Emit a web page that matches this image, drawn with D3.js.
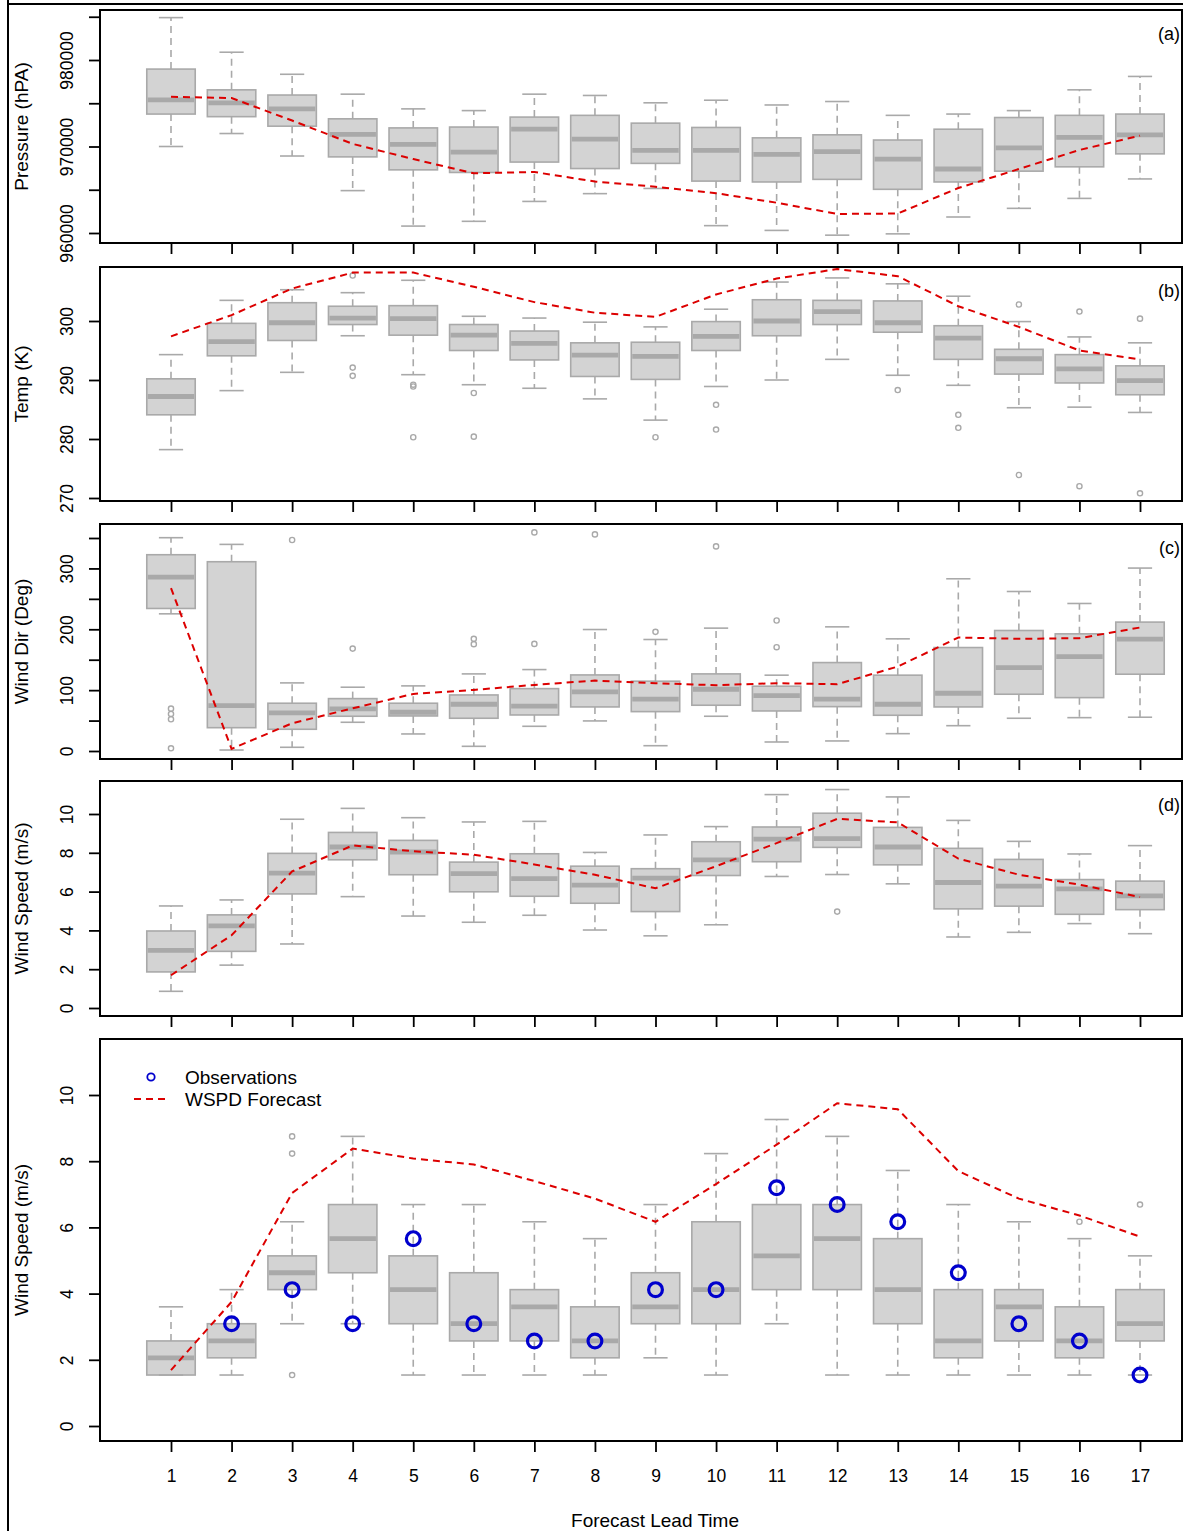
<!DOCTYPE html>
<html>
<head>
<meta charset="utf-8">
<script src="https://cdn.jsdelivr.net/npm/d3@7/dist/d3.min.js"></script>
<style>
body { margin: 0; background: #fff; }
text { font-family: "Liberation Sans", Arial, Helvetica, sans-serif; fill: #000; }
</style>
</head>
<body>
<svg id="chart"></svg>
<script>
// lead times (x categories)
const leads = [1, 2, 3, 4, 5, 6, 7, 8, 9, 10, 11, 12, 13, 14, 15, 16, 17];

// (a) pressure
const presUpper = [984900, 980900, 978350, 976050, 974350, 974150, 976050, 975900, 975050, 975350, 974800, 975200, 973600, 973750, 974150, 976550, 978100];
const presQ3    = [978950, 976550, 975950, 973200, 972150, 972250, 973400, 973600, 972700, 972200, 971000, 971350, 970750, 972000, 973350, 973600, 973750];
const presMed   = [975400, 975050, 974350, 971400, 970250, 969350, 972000, 970850, 969550, 969550, 969100, 969400, 968550, 967400, 969850, 971050, 971350];
const presQ1    = [973750, 973450, 972350, 968800, 967300, 967000, 968200, 967450, 968050, 966000, 965900, 966200, 965050, 965900, 967150, 967650, 969150];
const presLower = [970000, 971500, 968900, 964900, 960800, 961350, 963650, 964550, 965150, 960850, 960300, 959750, 959900, 961850, 962850, 964000, 966250];
const presFcst  = [975750, 975600, 973000, 970300, 968550, 966900, 967050, 965950, 965350, 964600, 963500, 962200, 962250, 965200, 967400, 969600, 971250];
const presOut   = [];
const presTicks = [960000, 965000, 970000, 975000, 980000, 985000];
const presLabels = [960000, 970000, 980000];

// (b) temperature
const tempUpper = [294.3, 303.5, 305.3, 304.8, 306.9, 300.8, 300.5, 299.8, 299.0, 302.0, 306.6, 307.3, 306.3, 304.2, 299.9, 297.3, 296.3];
const tempQ3    = [290.2, 299.6, 303.1, 302.5, 302.6, 299.4, 298.3, 296.3, 296.4, 299.9, 303.6, 303.5, 303.4, 299.2, 295.2, 294.3, 292.4];
const tempMed   = [287.2, 296.5, 299.7, 300.5, 300.4, 297.6, 296.2, 294.2, 294.0, 297.4, 300.0, 301.6, 299.7, 297.1, 293.6, 291.9, 289.9];
const tempQ1    = [284.1, 294.1, 296.7, 299.4, 297.6, 295.0, 293.4, 290.6, 290.1, 295.0, 297.5, 299.4, 298.1, 293.5, 291.0, 289.5, 287.5];
const tempLower = [278.2, 288.2, 291.3, 297.5, 290.9, 289.2, 288.6, 286.8, 283.2, 288.9, 290.0, 293.5, 290.8, 289.1, 285.3, 285.4, 284.5];
const tempFcst  = [297.4, 301.0, 305.5, 308.2, 308.2, 305.8, 303.2, 301.4, 300.7, 304.5, 307.2, 308.8, 307.6, 302.5, 299.0, 295.0, 293.5];
const tempOut   = [[4, 307.7], [4, 292.1], [4, 290.7], [5, 289.2], [5, 288.9], [5, 280.3], [6, 287.8], [6, 280.4],
                   [9, 280.3], [10, 285.8], [10, 281.6], [13, 288.3], [14, 284.1], [14, 281.9], [15, 302.8], [15, 273.9],
                   [16, 301.6], [16, 272.0], [17, 300.4], [17, 270.8]];
const tempTicks = [270, 280, 290, 300];

// (c) wind direction
const dirUpper = [350.5, 339.5, 111.9, 104.8, 107.0, 126.7, 133.8, 199.6, 183.2, 201.9, 124.6, 204.0, 184.3, 283.0, 262.1, 242.4, 300.6];
const dirQ3    = [322.5, 311.0, 78.5, 86.1, 78.5, 92.1, 102.5, 125.0, 114.7, 126.7, 106.5, 145.3, 124.6, 170.0, 198.0, 192.5, 211.8];
const dirMed   = [285.8, 74.5, 62.5, 69.1, 63.7, 76.8, 73.6, 97.1, 85.1, 101.5, 91.0, 85.1, 76.8, 94.9, 137.1, 155.2, 183.8];
const dirQ1    = [234.2, 38.3, 35.7, 57.1, 57.6, 53.8, 59.2, 72.4, 64.7, 75.2, 65.8, 72.9, 58.7, 72.4, 93.3, 87.7, 126.2];
const dirLower = [225.4, 1.6, 6.1, 47.2, 28.0, 7.7, 40.6, 49.4, 8.7, 57.1, 14.8, 16.5, 28.5, 41.6, 53.8, 54.8, 55.5];
const dirFcst  = [267.7, 3.5, 45.6, 70.2, 93.8, 100.4, 108.6, 115.7, 111.4, 108.1, 111.4, 109.8, 138.7, 186.4, 184.3, 185.4, 202.9];
const dirOut   = [[1, 69.6], [1, 60.9], [1, 52.2], [1, 4.4], [3, 346.7], [4, 168.3], [6, 184.3], [6, 175.6],
                  [7, 359.2], [7, 176.0], [8, 355.9], [9, 195.8], [10, 336.2], [11, 214.4], [11, 170.6]];
const dirTicks = [0, 50, 100, 150, 200, 250, 300, 350];
const dirLabels = [0, 100, 200, 300];

// (d) forecast wind speed ensemble
const spdUpper = [5.26, 5.57, 9.73, 10.29, 9.81, 9.59, 9.62, 8.02, 8.92, 9.35, 11.0, 11.26, 10.88, 9.67, 8.59, 7.94, 8.37];
const spdQ3    = [3.97, 4.80, 7.97, 9.05, 8.64, 7.52, 7.95, 7.31, 7.18, 8.57, 9.33, 10.04, 9.31, 8.23, 7.66, 6.62, 6.54];
const spdMed   = [2.97, 4.23, 6.95, 8.30, 8.04, 6.93, 6.67, 6.33, 6.69, 7.64, 8.71, 8.73, 8.30, 6.47, 6.28, 6.14, 5.78];
const spdQ1    = [1.86, 2.92, 5.88, 7.64, 6.87, 5.99, 5.76, 5.40, 4.97, 6.83, 7.54, 8.28, 7.38, 5.11, 5.25, 4.83, 5.07];
const spdLower = [0.86, 2.21, 3.30, 5.74, 4.74, 4.42, 4.78, 4.02, 3.72, 4.29, 6.78, 6.88, 6.40, 3.66, 3.90, 4.35, 3.83];
const spdOut   = [[12, 4.97]];
const wspdFcst = [1.69, 3.75, 7.04, 8.38, 8.08, 7.90, 7.40, 6.87, 6.17, 7.31, 8.50, 9.75, 9.57, 7.70, 6.87, 6.36, 5.72];
const spdTicks = [0, 2, 4, 6, 8, 10];

// (e) observed wind speed
const obsUpper = [3.60, 4.12, 6.17, 8.75, 6.69, 6.69, 6.17, 5.66, 6.69, 8.23, 9.26, 8.75, 7.72, 6.69, 6.17, 5.66, 5.14];
const obsQ3    = [2.57, 3.09, 5.14, 6.69, 5.14, 4.63, 4.12, 3.60, 4.63, 6.17, 6.69, 6.69, 5.66, 4.12, 4.12, 3.60, 4.12];
const obsMed   = [2.06, 2.57, 4.63, 5.66, 4.12, 3.09, 3.60, 2.57, 3.60, 4.12, 5.14, 5.66, 4.12, 2.57, 3.60, 2.57, 3.09];
const obsQ1    = [1.54, 2.06, 4.12, 4.63, 3.09, 2.57, 2.57, 2.06, 3.09, 3.09, 4.12, 4.12, 3.09, 2.06, 2.57, 2.06, 2.57];
const obsLower = [1.54, 1.54, 3.09, 3.09, 1.54, 1.54, 1.54, 1.54, 2.06, 1.54, 3.09, 1.54, 1.54, 1.54, 1.54, 1.54, 1.54];
const obsOut   = [[3, 8.75], [3, 8.23], [3, 1.54], [16, 6.17], [17, 6.69]];
const observations = [null, 3.09, 4.12, 3.09, 5.66, 3.09, 2.57, 2.57, 4.12, 4.12, 7.20, 6.69, 6.17, 4.63, 3.09, 2.57, 1.54];

const W = 1183, H = 1531;
const left = 100, right = 1182;
const boxFill = "#d3d3d3", boxLine = "#a9a9a9", red = "#dc0000", blue = "#0000cd";

const svg = d3.select("#chart").attr("width", W).attr("height", H);
svg.append("rect").attr("width", W).attr("height", H).attr("fill", "#fff");

const x = d3.scaleLinear().domain([1, 17]).range([171, 1140]);
const bw = (x(2) - x(1)) * 0.8;

const panels = [
  {label: "(a)", title: "Pressure (hPA)", top: 10, bottom: 243, domain: [960000, 980000], range: [233, 60],
   ticks: presTicks, labels: presLabels,
   stats: [presLower, presQ1, presMed, presQ3, presUpper], out: presOut, fcst: presFcst},
  {label: "(b)", title: "Temp (K)", top: 267, bottom: 501, domain: [270, 300], range: [498, 321],
   ticks: tempTicks, labels: tempTicks,
   stats: [tempLower, tempQ1, tempMed, tempQ3, tempUpper], out: tempOut, fcst: tempFcst},
  {label: "(c)", title: "Wind Dir (Deg)", top: 524, bottom: 759, domain: [0, 350], range: [751, 538],
   ticks: dirTicks, labels: dirLabels,
   stats: [dirLower, dirQ1, dirMed, dirQ3, dirUpper], out: dirOut, fcst: dirFcst},
  {label: "(d)", title: "Wind Speed (m/s)", top: 781, bottom: 1016, domain: [0, 10], range: [1008, 814],
   ticks: spdTicks, labels: spdTicks,
   stats: [spdLower, spdQ1, spdMed, spdQ3, spdUpper], out: spdOut, fcst: wspdFcst},
  {label: "(e)", title: "Wind Speed (m/s)", top: 1039, bottom: 1441, domain: [0, 10], range: [1426, 1095],
   ticks: spdTicks, labels: spdTicks,
   stats: [obsLower, obsQ1, obsMed, obsQ3, obsUpper], out: obsOut, fcst: wspdFcst, obs: observations, last: true}
];

panels.forEach(p => {
  const y = d3.scaleLinear().domain(p.domain).range(p.range);
  const g = svg.append("g");
  const rows = leads.map((l, i) => ({
    l: l, lo: p.stats[0][i], q1: p.stats[1][i], med: p.stats[2][i], q3: p.stats[3][i], hi: p.stats[4][i]
  }));

  // boxes
  g.selectAll(".box").data(rows).join("rect")
    .attr("x", d => x(d.l) - bw / 2)
    .attr("y", d => y(d.q3))
    .attr("width", bw)
    .attr("height", d => y(d.q1) - y(d.q3))
    .attr("fill", boxFill)
    .attr("stroke", boxLine)
    .attr("stroke-width", 1.6);

  g.selectAll(".med").data(rows).join("line")
    .attr("x1", d => x(d.l) - bw / 2 + 1)
    .attr("x2", d => x(d.l) + bw / 2 - 1)
    .attr("y1", d => y(d.med))
    .attr("y2", d => y(d.med))
    .attr("stroke", boxLine)
    .attr("stroke-width", 4.8);

  // whiskers
  const whisk = [["q3", "hi"], ["q1", "lo"]];
  whisk.forEach(w => {
    g.selectAll(".wh-" + w[1]).data(rows).join("line")
      .attr("x1", d => x(d.l)).attr("x2", d => x(d.l))
      .attr("y1", d => y(d[w[0]])).attr("y2", d => y(d[w[1]]))
      .attr("stroke", boxLine)
      .attr("stroke-width", 1.6)
      .attr("stroke-dasharray", "7,5");
    g.selectAll(".cap-" + w[1]).data(rows).join("line")
      .attr("x1", d => x(d.l) - bw / 4).attr("x2", d => x(d.l) + bw / 4)
      .attr("y1", d => y(d[w[1]])).attr("y2", d => y(d[w[1]]))
      .attr("stroke", boxLine)
      .attr("stroke-width", 1.6);
  });

  // outliers
  g.selectAll(".out").data(p.out).join("circle")
    .attr("cx", d => x(d[0]))
    .attr("cy", d => y(d[1]))
    .attr("r", 2.6)
    .attr("fill", "none")
    .attr("stroke", boxLine)
    .attr("stroke-width", 1.4);

  // forecast
  const line = d3.line().x((d, i) => x(leads[i])).y(d => y(d));
  g.append("path")
    .attr("d", line(p.fcst))
    .attr("fill", "none")
    .attr("stroke", red)
    .attr("stroke-width", 2)
    .attr("stroke-dasharray", "7,5");

  if (p.obs) {
    const pts = leads.map((l, i) => [l, p.obs[i]]).filter(d => d[1] !== null);
    g.selectAll(".obs").data(pts).join("circle")
      .attr("cx", d => x(d[0]))
      .attr("cy", d => y(d[1]))
      .attr("r", 6.9)
      .attr("fill", "none")
      .attr("stroke", blue)
      .attr("stroke-width", 3.2);

    // legend
    const lg = g.append("g");
    lg.append("circle").attr("cx", 151).attr("cy", 1077).attr("r", 3.7)
      .attr("fill", "none").attr("stroke", blue).attr("stroke-width", 1.8);
    lg.append("line").attr("x1", 134).attr("x2", 169).attr("y1", 1099).attr("y2", 1099)
      .attr("stroke", red).attr("stroke-width", 2).attr("stroke-dasharray", "7,5");
    lg.append("text").attr("x", 185).attr("y", 1084).style("font-size", "19px").text("Observations");
    lg.append("text").attr("x", 185).attr("y", 1106).style("font-size", "19px").text("WSPD Forecast");
  }

  // frame
  g.append("rect")
    .attr("x", left).attr("y", p.top)
    .attr("width", right - left).attr("height", p.bottom - p.top)
    .attr("fill", "none").attr("stroke", "#000").attr("stroke-width", 2);

  // y axis
  const ya = g.append("g").attr("transform", `translate(${left},0)`)
    .call(d3.axisLeft(y).tickValues(p.ticks).tickSize(11)
      .tickFormat(v => p.labels.includes(v) ? String(v) : ""));
  ya.select(".domain").remove();
  ya.selectAll(".tick line").attr("stroke", "#000").attr("stroke-width", 1.8);
  ya.selectAll(".tick text")
    .attr("transform", "rotate(-90)")
    .attr("x", 0).attr("y", -27).attr("dy", 0)
    .attr("text-anchor", "middle")
    .style("font-size", "17.5px");

  // x axis
  const xa = g.append("g").attr("transform", `translate(0,${p.bottom})`)
    .call(d3.axisBottom(x).tickValues(leads).tickSize(11)
      .tickFormat(v => p.last ? String(v) : ""));
  xa.select(".domain").remove();
  xa.selectAll(".tick line").attr("stroke", "#000").attr("stroke-width", 1.8);
  xa.selectAll(".tick text").attr("y", 41).attr("dy", 0).style("font-size", "17.5px");

  // titles
  g.append("text")
    .attr("transform", `translate(28,${(p.top + p.bottom) / 2}) rotate(-90)`)
    .attr("text-anchor", "middle")
    .style("font-size", "19px")
    .text(p.title);

  g.append("text")
    .attr("x", p.last ? 1181 : 1180)
    .attr("y", p.top + 30)
    .attr("text-anchor", p.last ? "start" : "end")
    .style("font-size", "18px")
    .text(p.label);
});

svg.append("text")
  .attr("x", 655).attr("y", 1527)
  .attr("text-anchor", "middle")
  .style("font-size", "19px")
  .text("Forecast Lead Time");

// outer page border lines
svg.append("line").attr("x1", 8).attr("x2", 8).attr("y1", 0).attr("y2", H)
  .attr("stroke", "#000").attr("stroke-width", 2);
svg.append("line").attr("x1", 8).attr("x2", W).attr("y1", 4).attr("y2", 4)
  .attr("stroke", "#000").attr("stroke-width", 2);
</script>
</body>
</html>
